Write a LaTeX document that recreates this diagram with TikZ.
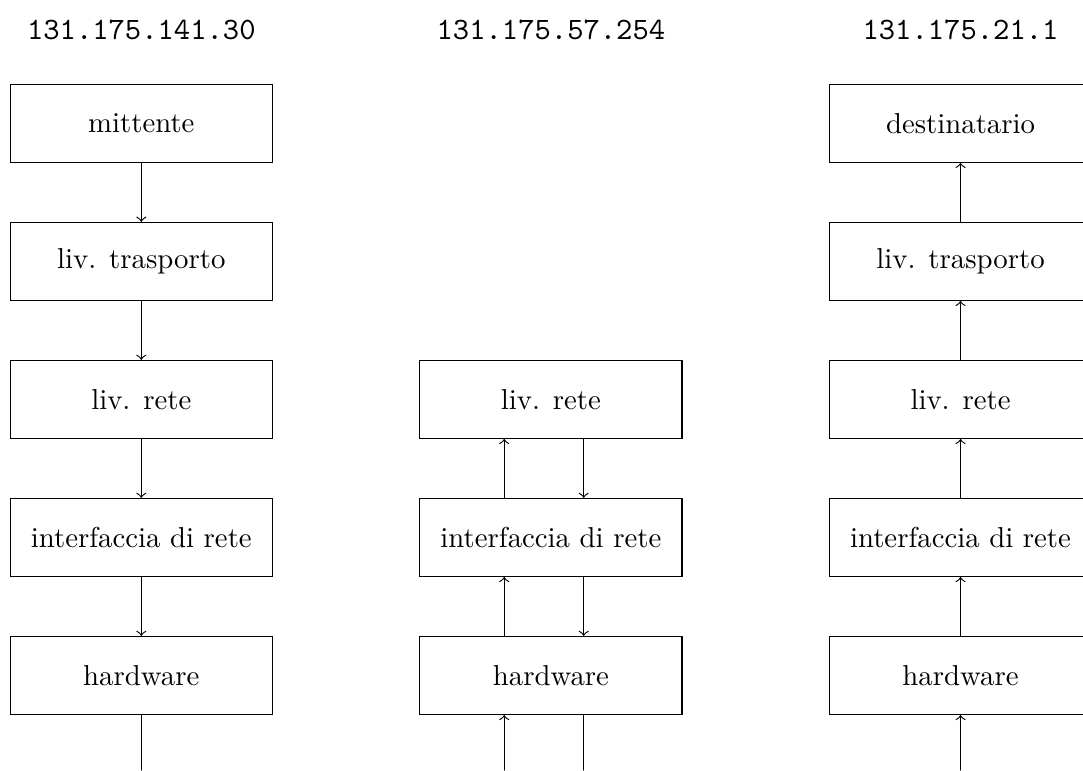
\documentclass[tikz,border=0pt]{standalone}
\usepackage{tikz}
\usetikzlibrary{arrows.meta, calc}
\tikzset{livbox/.style={draw, minimum width=3.2cm, minimum height=0.95cm, inner sep=2pt},
	ipaddr/.style={font=\fontsize{10.8}{13}\selectfont\ttfamily}}
\def\dx{0.57cm}

\begin{document}
\begin{tikzpicture}[line cap = round, >=to]
	\useasboundingbox (0,0) rectangle (13.22,-9.40);

	% indirizzi
	\node[ipaddr] (ipm) at (1.725,-0.37) {131.175.141.30};
	\node[ipaddr] (ipr) at (6.725,-0.37) {131.175.57.254};
	\node[ipaddr] (ipd) at (11.725,-0.37) {131.175.21.1};

	% mittente
	\node[livbox] (mitt)   at (1.725,-1.505) {mittente};
	\node[livbox] (mtrasp) at (1.725,-3.19)  {liv. trasporto};
	\node[livbox] (mrete)  at (1.725,-4.875) {liv. rete};
	\node[livbox] (mif)    at (1.725,-6.56)  {interfaccia di rete};
	\node[livbox] (mhw)    at (1.725,-8.245) {hardware};
	\coordinate (mfondo) at (1.725,-9.40);

	\draw[->] (mitt) -- (mtrasp);
	\draw[->] (mtrasp) -- (mrete);
	\draw[->] (mrete) -- (mif);
	\draw[->] (mif) -- (mhw);
	\draw (mhw) -- (mfondo);

	% router
	\node[livbox] (rrete) at (6.725,-4.875) {liv. rete};
	\node[livbox] (rif)   at (6.725,-6.56)  {interfaccia di rete};
	\node[livbox] (rhw)   at (6.725,-8.245) {hardware};
	\coordinate (rfondo) at (6.725,-9.40);

	\draw[->] ([xshift=-\dx]rhw.north) -- ([xshift=-\dx]rif.south);
	\draw[->] ([xshift=-\dx]rif.north) -- ([xshift=-\dx]rrete.south);
	\draw[->] ([xshift=0.4cm]rrete.south) -- ([xshift=0.4cm]rif.north);
	\draw[->] ([xshift=0.4cm]rif.south) -- ([xshift=0.4cm]rhw.north);
	\draw[->] ([xshift=-\dx]rfondo) -- ([xshift=-\dx]rhw.south);
	\draw ([xshift=0.4cm]rhw.south) -- ([xshift=0.4cm]rfondo);

	% destinatario
	\node[livbox] (dest)   at (11.725,-1.505) {destinatario};
	\node[livbox] (dtrasp) at (11.725,-3.19)  {liv. trasporto};
	\node[livbox] (drete)  at (11.725,-4.875) {liv. rete};
	\node[livbox] (dif)    at (11.725,-6.56)  {interfaccia di rete};
	\node[livbox] (dhw)    at (11.725,-8.245) {hardware};
	\coordinate (dfondo) at (11.725,-9.40);

	\draw[->] (dfondo) -- (dhw);
	\draw[->] (dhw) -- (dif);
	\draw[->] (dif) -- (drete);
	\draw[->] (drete) -- (dtrasp);
	\draw[->] (dtrasp) -- (dest);

\end{tikzpicture}
\end{document}
